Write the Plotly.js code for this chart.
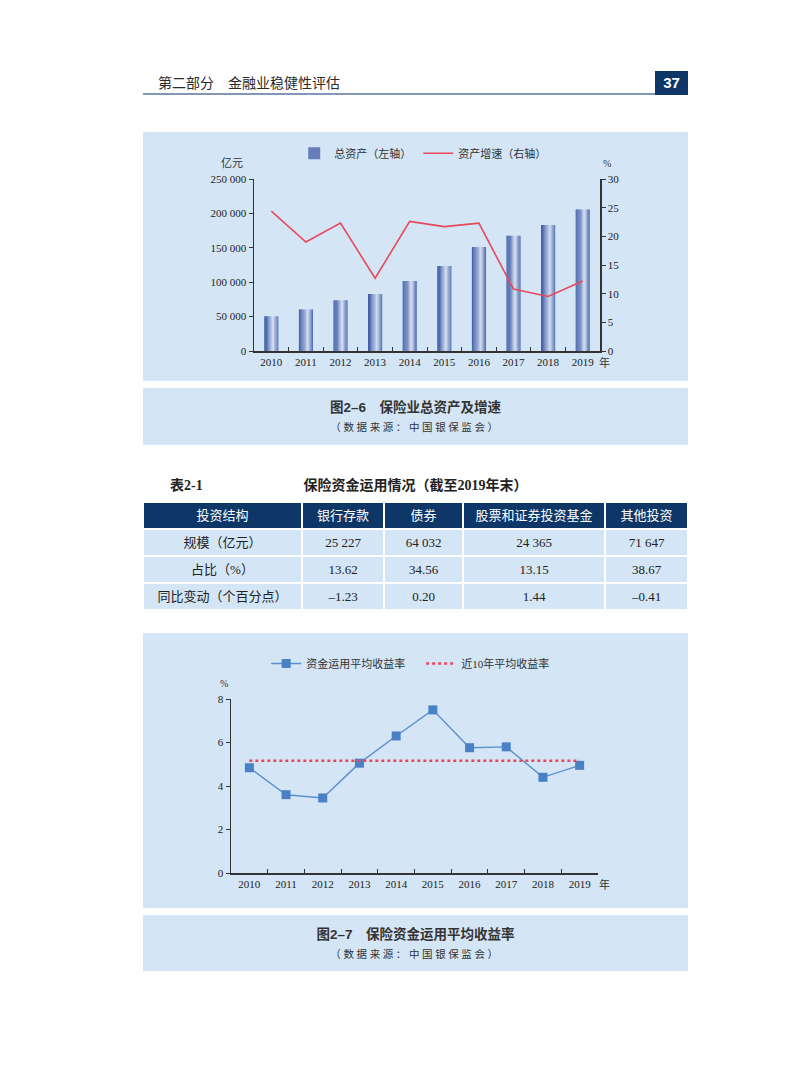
<!DOCTYPE html>
<html>
<head>
<meta charset="utf-8">
<script src="https://cdn.plot.ly/plotly-3.0.1.min.js"></script>
<style>
  html, body { margin: 0; padding: 0; background: #ffffff; }
  #page { position: relative; width: 793px; height: 1077px; background: #fff; overflow: hidden;
          font-family: "Liberation Serif", "Noto Sans CJK SC", serif; color: #222; }
  .abs { position: absolute; }
  .panel { position: absolute; left: 143px; width: 545px; background: #d4e5f5; }
  .cap-title { position: absolute; left: 143px; width: 545px; text-align: center;
               font-family: "Liberation Sans", "Noto Sans CJK SC", sans-serif; font-weight: bold;
               font-size: 13.5px; color: #333; }
  .cap-sub { position: absolute; left: 143px; width: 545px; text-align: center;
             font-family: "Noto Sans CJK SC", sans-serif; font-size: 10.5px; letter-spacing: 2.6px; color: #333; }
</style>
</head>
<body>
<div id="page">
  <!-- running header -->
  <div class="abs" style="left:158px; top:72px; font-size:14px; font-family:'Noto Sans CJK SC', sans-serif; color:#2a2a2a; line-height:20px;">第二部分　金融业稳健性评估</div>
  <div class="abs" style="left:143px; top:93px; width:512px; height:2px; background:#8396b6;"></div>
  <div class="abs" style="left:655px; top:71px; width:33px; height:24px; background:#0e3768; color:#fff; font-family:'Liberation Sans', Arial, sans-serif; font-weight:bold; font-size:15px; line-height:24px; text-align:center;">37</div>

  <!-- chart 1 panel -->
  <div class="panel" style="top:132px; height:249px;"></div>
  <div id="chart1" class="abs" style="left:143px; top:132px; width:545px; height:249px;"></div>
  <div class="panel" style="top:388px; height:57px;"></div>
  <div class="cap-title" style="top:398px; line-height:20px;">图2–6　保险业总资产及增速</div>
  <div class="cap-sub" style="top:419px; line-height:16px;">（数据来源：中国银保监会）</div>

  <!-- table -->
  <div class="abs" style="left:170px; top:477px; font-size:14px; font-weight:bold; line-height:18px; font-family:'Liberation Serif','Noto Sans CJK SC',serif;">表2-1</div>
  <div class="abs" style="left:143px; width:545px; top:477px; text-align:center; font-size:14px; font-weight:bold; line-height:18px; font-family:'Liberation Serif','Noto Sans CJK SC',serif;">保险资金运用情况（截至2019年末）</div>
  <div id="table1" class="abs" style="left:143px; top:502px; width:545px; height:112px;"></div>

  <!-- chart 2 panel -->
  <div class="panel" style="top:633px; height:275px;"></div>
  <div id="chart2" class="abs" style="left:143px; top:633px; width:545px; height:275px;"></div>
  <div class="panel" style="top:915px; height:56px;"></div>
  <div class="cap-title" style="top:925px; line-height:20px;">图2–7　保险资金运用平均收益率</div>
  <div class="cap-sub" style="top:946px; line-height:16px;">（数据来源：中国银保监会）</div>
</div>

<script>
// ---------------- data ----------------
const years = ['2010','2011','2012','2013','2014','2015','2016','2017','2018','2019'];
const totalAssets = [50500, 60500, 73800, 83000, 101600, 123600, 151200, 167500, 183300, 205600]; // 亿元
const assetGrowth = [24.4, 19.0, 22.3, 12.7, 22.6, 21.7, 22.3, 10.8, 9.5, 12.2]; // %

const tableHeader = ['投资结构', '银行存款', '债券', '股票和证券投资基金', '其他投资'];
const rowLabels = ['规模（亿元）', '占比（%）', '同比变动（个百分点）'];
const scaleValues = [25227, 64032, 24365, 71647];
const shareValues = [13.62, 34.56, 13.15, 38.67];
const changeValues = [-1.23, 0.20, 1.44, -0.41];

const avgReturn = [4.84, 3.60, 3.45, 5.05, 6.30, 7.50, 5.76, 5.80, 4.40, 4.95]; // %
const tenYearAvg = 5.16; // %

// ---------------- styles ----------------
const FONT = "Liberation Serif, 'Noto Sans CJK SC', serif";
const AX = '#333333';
const RED = '#e8485c';
const BLUE = '#4a80c4';

function mix(a, b, s) { return a.map((v, i) => Math.round(v + (b[i] - v) * s)); }
function rgb(c) { return 'rgb(' + c.join(',') + ')'; }

// ---------------- chart 1 ----------------
const N = 16, BW = 0.405, H = 0.63;
const cDark = [50, 82, 162], cLight = [222, 229, 243], cRight = [70, 98, 172];
const traces1 = [];
for (let i = 0; i < N; i++) {
  const t = (i + 0.5) / N;
  let c;
  if (t < H) c = mix(cDark, cLight, Math.pow(t / H, 1.5));
  else c = mix(cLight, cRight, Math.pow((t - H) / (1 - H), 0.85));
  traces1.push({
    type: 'bar', x: years, y: totalAssets,
    width: BW / N + 0.002, offset: -BW / 2 + i * BW / N,
    marker: { color: rgb(c), line: { width: 0 } },
    name: '总资产（左轴）', showlegend: i === 4, hoverinfo: 'skip'
  });
}
traces1.push({
  type: 'scatter', mode: 'lines', x: years, y: assetGrowth, yaxis: 'y2',
  line: { color: RED, width: 1.6 }, name: '资产增速（右轴）', showlegend: true
});

const layout1 = {
  width: 545, height: 249,
  margin: { l: 111, r: 88, t: 47, b: 30, autoexpand: false },
  paper_bgcolor: 'rgba(0,0,0,0)', plot_bgcolor: 'rgba(0,0,0,0)',
  barmode: 'overlay', separators: '. ',
  font: { family: FONT, size: 11, color: '#222' },
  showlegend: true,
  legend: { orientation: 'h', xref: 'container', yref: 'container', x: 0.2775, xanchor: 'left', y: 0.973, yanchor: 'top',
            font: { family: FONT, size: 11, color: '#333' }, bgcolor: 'rgba(0,0,0,0)',
            entrywidth: 79, entrywidthmode: 'pixels', traceorder: 'normal' },
  xaxis: { type: 'category', range: [-0.5, 9.5], showline: true, linecolor: AX, linewidth: 1.5,
           ticks: 'inside', tickson: 'boundaries', ticklen: 4, tickcolor: AX, tickwidth: 1,
           showgrid: false, zeroline: false, tickfont: { family: FONT, size: 11, color: '#222' } },
  yaxis: { range: [0, 250000], dtick: 50000, tickformat: ',d', showline: true, linecolor: AX, linewidth: 1.5,
           ticks: 'outside', ticklen: 4, tickcolor: AX, showgrid: false, zeroline: false,
           tickfont: { family: FONT, size: 11, color: '#222' } },
  yaxis2: { overlaying: 'y', side: 'right', range: [0, 30], dtick: 5, showline: true, linecolor: AX, linewidth: 1.5,
            ticks: 'outside', ticklen: 4, tickcolor: AX, showgrid: false, zeroline: false,
            tickfont: { family: FONT, size: 11, color: '#222' } },
  annotations: [
    { text: '亿元', xref: 'paper', yref: 'paper', x: -0.065, y: 1.0, yshift: 16, xanchor: 'center', yanchor: 'middle',
      showarrow: false, font: { family: FONT, size: 11, color: '#333' } },
    { text: '%', xref: 'paper', yref: 'paper', x: 1.02, y: 1.0, yshift: 16, xanchor: 'center', yanchor: 'middle',
      showarrow: false, font: { family: FONT, size: 10, color: '#333' } },
    { text: '年', xref: 'paper', yref: 'paper', x: 1.0, xshift: -3, y: 0, yshift: -11, xanchor: 'left', yanchor: 'middle',
      showarrow: false, font: { family: FONT, size: 11, color: '#333' } }
  ]
};
Plotly.newPlot('chart1', traces1, layout1, { staticPlot: true, displayModeBar: false });

// ---------------- table ----------------
function fmtInt(v) { return String(v).replace(/\B(?=(\d{3})+(?!\d))/g, ' '); }
function fmtDec(v) { return (v < 0 ? '–' : '') + Math.abs(v).toFixed(2); }
const colValues = [rowLabels];
for (let j = 0; j < scaleValues.length; j++) {
  colValues.push([fmtInt(scaleValues[j]), fmtDec(shareValues[j]), fmtDec(changeValues[j])]);
}
const tableTrace = {
  type: 'table',
  columnwidth: [159, 82, 79, 142, 83],
  header: {
    values: tableHeader, align: 'center', height: 27,
    fill: { color: '#0e3768' }, line: { color: '#ffffff', width: 2 },
    font: { family: "'Noto Sans CJK SC', sans-serif", size: 13, color: '#ffffff' }
  },
  cells: {
    values: colValues, align: 'center', height: 27,
    fill: { color: '#d4e5f5' }, line: { color: '#ffffff', width: 2 },
    font: { family: FONT, size: 13, color: '#222' }
  },
  domain: { x: [0, 1], y: [0, 1] }
};
Plotly.newPlot('table1', [tableTrace], {
  width: 545, height: 112, margin: { l: 0, r: 0, t: 0, b: 0 },
  paper_bgcolor: 'rgba(0,0,0,0)'
}, { staticPlot: true, displayModeBar: false });

// ---------------- chart 2 ----------------
const traces2 = [
  { type: 'scatter', mode: 'lines+markers', x: years, y: avgReturn, name: '资金运用平均收益率',
    line: { color: '#5a8fd0', width: 1.4 }, marker: { symbol: 'square', size: 9, color: BLUE } },
  { type: 'scatter', mode: 'lines', x: years, y: years.map(() => tenYearAvg), name: '近10年平均收益率',
    line: { color: RED, width: 2.4, dash: 'dot' } }
];
const layout2 = {
  width: 545, height: 275,
  margin: { l: 88, r: 90, t: 66, b: 35, autoexpand: false },
  paper_bgcolor: 'rgba(0,0,0,0)', plot_bgcolor: 'rgba(0,0,0,0)',
  font: { family: FONT, size: 11, color: '#222' },
  showlegend: true,
  legend: { orientation: 'h', xref: 'container', yref: 'container', x: 0.226, xanchor: 'left', y: 0.942, yanchor: 'top',
            font: { family: FONT, size: 11, color: '#333' }, bgcolor: 'rgba(0,0,0,0)',
            entrywidth: 110, entrywidthmode: 'pixels' },
  xaxis: { type: 'category', range: [-0.5, 9.5], showline: true, linecolor: AX, linewidth: 1.5,
           ticks: 'inside', tickson: 'boundaries', ticklen: 4, tickcolor: AX, tickwidth: 1,
           showgrid: false, zeroline: false, tickfont: { family: FONT, size: 11, color: '#222' } },
  yaxis: { range: [0, 8], dtick: 2, showline: true, linecolor: AX, linewidth: 1.5,
           ticks: 'outside', ticklen: 4, tickcolor: AX, showgrid: false, zeroline: false,
           tickfont: { family: FONT, size: 11, color: '#222' } },
  annotations: [
    { text: '%', xref: 'paper', yref: 'paper', x: -0.02, y: 1.0, yshift: 16, xanchor: 'center', yanchor: 'middle',
      showarrow: false, font: { family: FONT, size: 10, color: '#333' } },
    { text: '年', xref: 'paper', yref: 'paper', x: 1.0, xshift: -1, y: 0, yshift: -11, xanchor: 'left', yanchor: 'middle',
      showarrow: false, font: { family: FONT, size: 11, color: '#333' } }
  ]
};
Plotly.newPlot('chart2', traces2, layout2, { staticPlot: true, displayModeBar: false });
</script>
</body>
</html>
